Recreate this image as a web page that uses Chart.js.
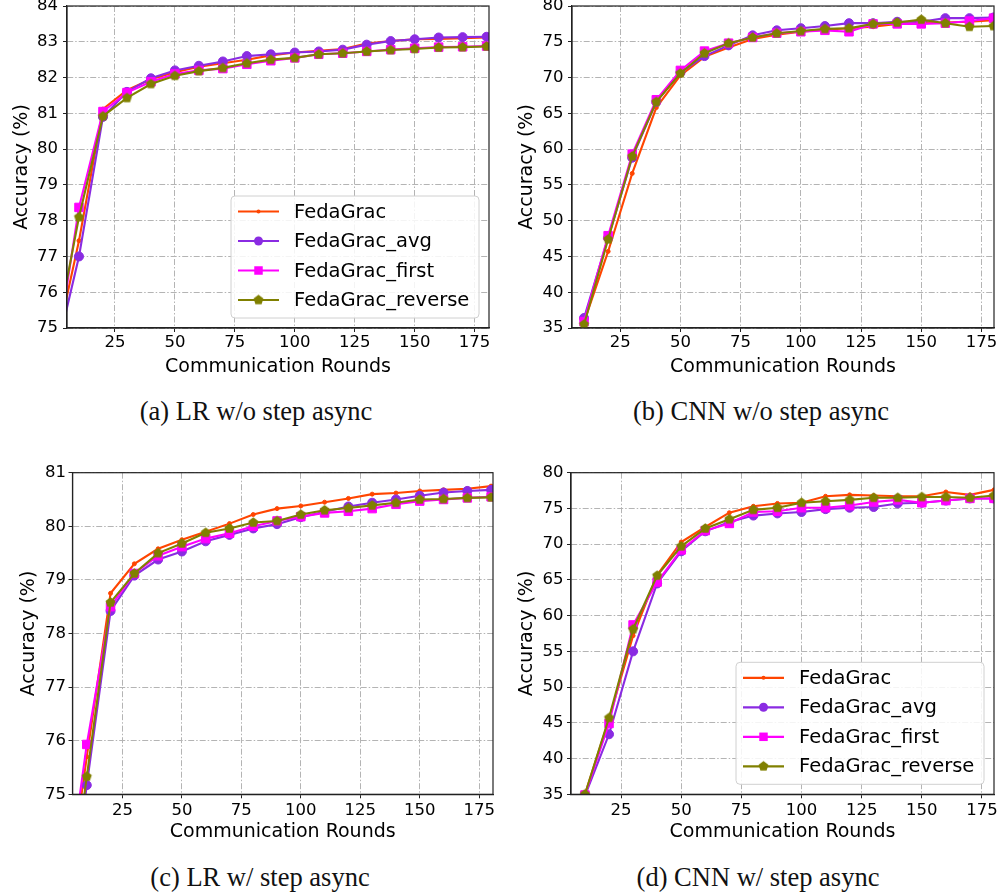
<!DOCTYPE html>
<html>
<head>
<meta charset="utf-8">
<script src="https://cdn.jsdelivr.net/npm/chart.js@4.4.0/dist/chart.umd.min.js"></script>
<style>
  html, body { margin: 0; padding: 0; background: #fff; }
  #wrap { position: relative; width: 1002px; height: 896px; overflow: hidden; background: #fff; }
  #wrap canvas { position: absolute; }
  .cap { position: absolute; font-family: 'Liberation Serif', 'Times New Roman', serif; font-size: 26.5px; color: #111; white-space: nowrap; transform: translate(-50%, -50%); }
</style>
</head>
<body>
<div id="wrap">
  <canvas id="cA"></canvas>
  <canvas id="cB"></canvas>
  <canvas id="cC"></canvas>
  <canvas id="cD"></canvas>
  <div class="cap" style="left:256px;top:411px">(a) LR w/o step async</div>
  <div class="cap" style="left:761px;top:411px">(b) CNN w/o step async</div>
  <div class="cap" style="left:260px;top:877px">(c) LR w/ step async</div>
  <div class="cap" style="left:758px;top:877px">(d) CNN w/ step async</div>
</div>
<script>
// rounds on the x axis
const lrRounds = [0, 10, 20, 30, 40, 50, 60, 70, 80, 90, 100, 110, 120, 130, 140, 150, 160, 170, 180];
const cnnRounds = [10, 20, 30, 40, 50, 60, 70, 80, 90, 100, 110, 120, 130, 140, 150, 160, 170, 180];
const xTicks = [25, 50, 75, 100, 125, 150, 175];
const seriesNames = ['FedaGrac', 'FedaGrac_avg', 'FedaGrac_first', 'FedaGrac_reverse'];

// (a) LR w/o step async
const a_fedagrac = [74.36, 77.44, 81.12, 81.65, 81.95, 82.15, 82.3, 82.4, 82.5, 82.62, 82.7, 82.75, 82.8, 82.95, 83.02, 83.07, 83.08, 83.1, 83.12];
const a_avg      = [74.14, 77.0, 80.9, 81.6, 81.98, 82.2, 82.33, 82.45, 82.6, 82.65, 82.7, 82.73, 82.78, 82.92, 83.02, 83.07, 83.12, 83.13, 83.14];
const a_first    = [74.03, 78.37, 81.05, 81.58, 81.88, 82.1, 82.2, 82.25, 82.37, 82.47, 82.55, 82.65, 82.68, 82.73, 82.78, 82.82, 82.85, 82.86, 82.88];
const a_reverse  = [74.6, 78.1, 80.92, 81.43, 81.82, 82.05, 82.18, 82.27, 82.4, 82.5, 82.55, 82.65, 82.68, 82.73, 82.77, 82.8, 82.84, 82.85, 82.87];

// (b) CNN w/o step async
const b_fedagrac = [35.8, 45.7, 56.6, 65.8, 70.3, 72.9, 74.2, 75.4, 76.0, 76.4, 76.7, 76.9, 77.1, 77.5, 77.6, 77.7, 77.8, 78.0];
const b_avg      = [36.4, 47.6, 58.8, 66.6, 70.7, 73.0, 74.5, 75.9, 76.6, 76.9, 77.2, 77.6, 77.6, 77.8, 77.8, 78.3, 78.3, 78.4];
const b_first    = [35.9, 47.9, 59.3, 66.9, 71.0, 73.7, 74.8, 75.6, 76.2, 76.4, 76.6, 76.4, 77.5, 77.5, 77.5, 77.6, 77.9, 78.3];
const b_reverse  = [35.5, 47.4, 59.0, 66.6, 70.6, 73.4, 74.8, 75.6, 76.2, 76.5, 76.8, 76.9, 77.5, 77.7, 78.1, 77.6, 77.1, 77.2];

// (c) LR w/ step async
const c_fedagrac = [72.5, 75.7, 78.75, 79.3, 79.58, 79.75, 79.9, 80.05, 80.22, 80.33, 80.38, 80.45, 80.52, 80.6, 80.62, 80.66, 80.68, 80.7, 80.75];
const c_avg      = [71.8, 75.17, 78.42, 79.08, 79.38, 79.53, 79.72, 79.84, 79.96, 80.04, 80.17, 80.27, 80.37, 80.44, 80.5, 80.57, 80.63, 80.66, 80.68];
const c_first    = [72.7, 75.93, 78.5, 79.12, 79.45, 79.62, 79.77, 79.87, 80.0, 80.1, 80.18, 80.25, 80.28, 80.33, 80.41, 80.47, 80.5, 80.53, 80.55];
const c_reverse  = [72.0, 75.33, 78.58, 79.12, 79.5, 79.68, 79.88, 79.96, 80.07, 80.1, 80.22, 80.3, 80.34, 80.39, 80.44, 80.5, 80.51, 80.53, 80.54];

// (d) CNN w/ step async
const d_fedagrac = [35.0, 45.5, 57.2, 65.7, 70.3, 72.4, 74.4, 75.3, 75.7, 75.8, 76.7, 76.9, 76.8, 76.7, 76.7, 77.3, 76.9, 77.6];
const d_avg      = [34.8, 43.4, 55.0, 64.5, 69.0, 71.8, 73.1, 74.0, 74.3, 74.5, 74.9, 75.1, 75.2, 75.7, 75.8, 76.1, 76.4, 76.4];
const d_first    = [34.9, 44.9, 58.7, 64.7, 69.2, 71.9, 72.9, 74.5, 74.6, 75.1, 75.1, 75.4, 75.9, 76.2, 75.8, 76.1, 76.4, 76.4];
const d_reverse  = [35.0, 45.7, 58.1, 65.6, 69.7, 72.2, 73.5, 74.8, 75.1, 75.8, 76.0, 76.2, 76.5, 76.5, 76.6, 76.6, 76.5, 76.8];

Chart.defaults.font.family = "'DejaVu Sans', sans-serif";
Chart.defaults.color = '#000';

function pentagon(color, r) {
  const s = Math.ceil(r * 2 + 2);
  const c = document.createElement('canvas');
  c.width = s; c.height = s;
  const g = c.getContext('2d');
  g.fillStyle = color;
  g.beginPath();
  for (let i = 0; i < 5; i++) {
    const ang = -Math.PI / 2 + i * 2 * Math.PI / 5;
    g.lineTo(s / 2 + r * Math.cos(ang), s / 2 + r * Math.sin(ang));
  }
  g.closePath();
  g.fill();
  return c;
}

const styles = [
  { color: '#ff4500', pointStyle: 'circle', radius: 2 },
  { color: '#8a2be2', pointStyle: 'circle', radius: 4.5 },
  { color: '#ff00ff', pointStyle: 'rect', radius: 6 },
  { color: '#808000', pointStyle: pentagon('#808000', 5.2), radius: 5 },
];

function drawMarker(ctx, st, x, y) {
  ctx.fillStyle = st.color;
  if (st.pointStyle === 'circle') {
    ctx.beginPath(); ctx.arc(x, y, st.radius, 0, Math.PI * 2); ctx.fill();
  } else if (st.pointStyle === 'rect') {
    const h = st.radius * Math.SQRT1_2;
    ctx.fillRect(x - h, y - h, 2 * h, 2 * h);
  } else {
    const img = st.pointStyle;
    ctx.drawImage(img, x - img.width / 2, y - img.height / 2);
  }
}

// frame on all four sides + legend box in lower right
const framePlugin = {
  id: 'frameAndLegend',
  afterDatasetsDraw(chart) {
    const { ctx, chartArea: ca } = chart;
    ctx.save();
    ctx.setLineDash([]);
    ctx.strokeStyle = '#222';
    ctx.lineWidth = 1.2;
    ctx.strokeRect(ca.left, ca.top, ca.right - ca.left, ca.bottom - ca.top);
    if (chart.options.plugins.frameAndLegend.legend) {
      const w = 248, h = 122;
      const bx = ca.right - 10 - w, by = ca.bottom - 10 - h;
      ctx.beginPath();
      ctx.roundRect(bx, by, w, h, 4);
      ctx.fillStyle = 'rgba(255,255,255,0.85)';
      ctx.fill();
      ctx.strokeStyle = '#d0d0d0';
      ctx.lineWidth = 1;
      ctx.stroke();
      ctx.font = "19.5px 'DejaVu Sans'";
      ctx.textBaseline = 'middle';
      ctx.textAlign = 'left';
      seriesNames.forEach((name, i) => {
        const y = by + 15.5 + i * 29.5;
        const st = styles[i];
        ctx.strokeStyle = st.color;
        ctx.lineWidth = 2.2;
        ctx.beginPath();
        ctx.moveTo(bx + 7, y); ctx.lineTo(bx + 48, y);
        ctx.stroke();
        drawMarker(ctx, st, bx + 27.5, y);
        ctx.fillStyle = '#000';
        ctx.fillText(name, bx + 63, y + 1);
      });
    }
    ctx.restore();
  }
};

const gridOpts = { color: '#b4b4b4', lineWidth: 1, tickLength: 4, tickColor: '#222', tickBorderDash: [], tickWidth: 1 };
const borderOpts = { display: true, color: '#222', width: 1.2, dash: [6, 2, 1.5, 2] };

function makeChart(id, p) {
  const cv = document.getElementById(id);
  cv.width = p.w; cv.height = p.h;
  cv.style.left = p.left + 'px'; cv.style.top = p.top + 'px';
  cv.style.width = p.w + 'px'; cv.style.height = p.h + 'px';
  const datasets = p.series.map((vals, i) => ({
    label: seriesNames[i],
    data: vals.map((v, k) => ({ x: p.rounds[k], y: v })),
    borderColor: styles[i].color,
    backgroundColor: styles[i].color,
    pointBackgroundColor: styles[i].color,
    pointBorderColor: styles[i].color,
    pointBorderWidth: 1,
    pointStyle: styles[i].pointStyle,
    pointRadius: styles[i].radius,
    borderWidth: 2.1,
    tension: 0,
    clip: 0,
    order: 4 - i,
  }));
  return new Chart(cv, {
    type: 'line',
    data: { datasets },
    plugins: [framePlugin],
    options: {
      responsive: false,
      animation: false,
      events: [],
      layout: { padding: { top: p.padTop, right: p.padRight, left: 0, bottom: 0 } },
      plugins: {
        legend: { display: false },
        tooltip: { enabled: false },
        frameAndLegend: { legend: p.legend },
      },
      scales: {
        x: {
          type: 'linear',
          min: p.xMin, max: p.xMax,
          afterBuildTicks: s => { s.ticks = xTicks.map(v => ({ value: v })); },
          afterFit: s => { s.height = p.xAxisH; },
          ticks: { font: { size: 16.5 }, color: '#000', padding: p.xTickPad, maxRotation: 0 },
          grid: gridOpts,
          border: borderOpts,
          title: { display: true, text: 'Communication Rounds', font: { size: 19 }, color: '#000', padding: { top: 0, bottom: p.xTitlePad } },
        },
        y: {
          min: p.yMin, max: p.yMax,
          ticks: { stepSize: p.yStep, font: { size: 16.5 }, color: '#000', padding: p.yTickPad },
          afterFit: s => { s.width = p.yAxisW; },
          grid: gridOpts,
          border: borderOpts,
          title: { display: true, text: 'Accuracy (%)', font: { size: 19 }, color: '#000', padding: { top: p.yTitlePad, bottom: 0 } },
        },
      },
    },
  });
}

makeChart('cA', {
  left: 0, top: -14, w: 500, h: 404, padTop: 20, padRight: 11,
  yAxisW: 67, xAxisH: 62, xTickPad: 1.2, yTickPad: 5, xTitlePad: 11.6, yTitlePad: 10.6,
  xMin: 5, xMax: 181, yMin: 75, yMax: 84, yStep: 1, legend: true,
  rounds: lrRounds, series: [a_fedagrac, a_avg, a_first, a_reverse],
});
makeChart('cB', {
  left: 500, top: -14, w: 502, h: 404, padTop: 20, padRight: 8,
  yAxisW: 72, xAxisH: 62, xTickPad: 1.2, yTickPad: 4.4, xTitlePad: 11.6, yTitlePad: 15.6,
  xMin: 5, xMax: 180.2, yMin: 35, yMax: 80, yStep: 5, legend: false,
  rounds: cnnRounds, series: [b_fedagrac, b_avg, b_first, b_reverse],
});
makeChart('cC', {
  left: 0, top: 446, w: 500, h: 404, padTop: 26.7, padRight: 3,
  yAxisW: 72.5, xAxisH: 55.7, xTickPad: 2.5, yTickPad: 2.5, xTitlePad: 6.9, yTitlePad: 17.6,
  xMin: 4, xMax: 180.8, yMin: 75, yMax: 81, yStep: 1, legend: false,
  rounds: lrRounds, series: [c_fedagrac, c_avg, c_first, c_reverse],
});
makeChart('cD', {
  left: 500, top: 446, w: 502, h: 404, padTop: 26.7, padRight: 8,
  yAxisW: 71, xAxisH: 55.7, xTickPad: 2.5, yTickPad: 3.4, xTitlePad: 6.9, yTitlePad: 15.6,
  xMin: 4.2, xMax: 180, yMin: 35, yMax: 80, yStep: 5, legend: true,
  rounds: cnnRounds, series: [d_fedagrac, d_avg, d_first, d_reverse],
});
</script>
</body>
</html>
